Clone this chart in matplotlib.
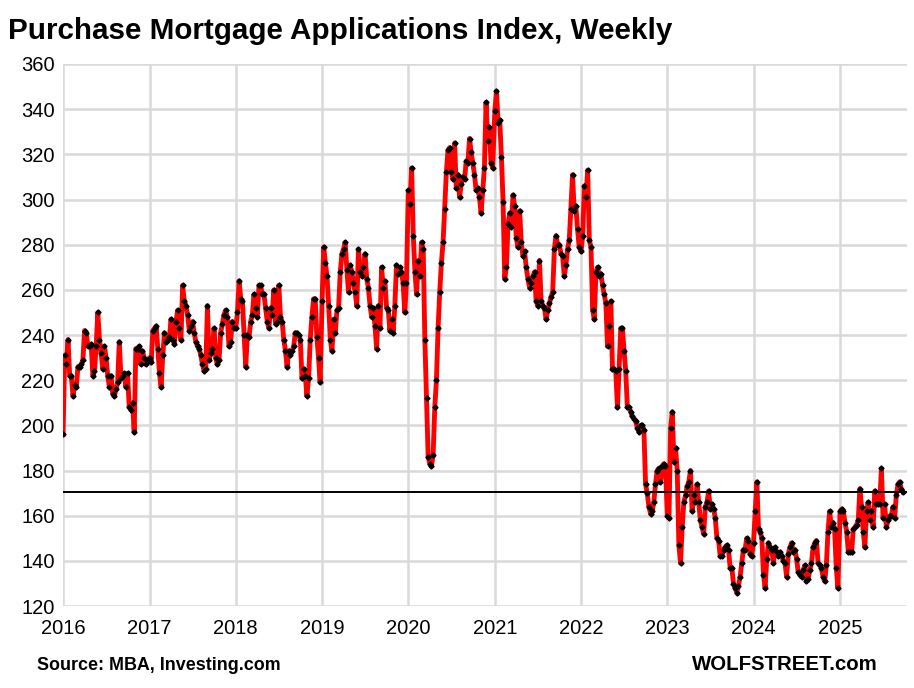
import matplotlib

matplotlib.use("Agg")
import matplotlib.pyplot as plt
import matplotlib.dates as mdates
import pandas as pd

# weekly index values, one list per year
y2016 = [196, 231, 227, 238, 222, 222, 213, 218, 217, 226, 226, 227, 229, 242, 241, 235,
         235, 236, 222, 224, 235, 250, 238, 232, 225, 235, 230, 222, 217, 222, 214, 213,
         216, 219, 237, 221, 222, 223, 217, 223, 208, 207, 210, 197, 234, 234, 235, 227,
         233, 230, 227, 229]
y2017 = [230, 228, 242, 243, 244, 234, 223, 217, 231, 241, 237, 238, 239, 247, 238, 236,
         246, 251, 243, 238, 262, 255, 253, 249, 242, 244, 246, 241, 237, 235, 234, 231,
         227, 224, 225, 253, 229, 232, 234, 243, 230, 227, 229, 241, 245, 249, 251, 248,
         235, 237, 246, 243]
y2018 = [243, 250, 264, 256, 255, 240, 226, 240, 239, 246, 249, 258, 252, 248, 262, 262,
         258, 258, 252, 246, 243, 252, 249, 260, 245, 246, 262, 248, 246, 238, 233, 226,
         233, 231, 233, 235, 241, 241, 240, 238, 221, 225, 222, 213, 221, 238, 248, 256,
         256, 239, 230, 219]
y2019 = [255, 279, 272, 266, 253, 238, 233, 247, 241, 251, 252, 268, 276, 278, 281, 269,
         259, 271, 268, 263, 259, 253, 278, 268, 266, 270, 276, 265, 261, 253, 248, 252,
         244, 234, 253, 243, 270, 261, 264, 252, 251, 242, 247, 241, 253, 271, 267, 270,
         268, 263, 250, 263]
y2020 = [304, 298, 314, 284, 268, 258, 273, 266, 281, 278, 238, 212, 186, 183, 182, 187,
         208, 220, 243, 259, 272, 281, 296, 312, 322, 323, 312, 309, 325, 305, 311, 301,
         307, 310, 309, 317, 316, 327, 321, 316, 311, 304, 305, 301, 294, 304, 314, 343,
         326, 332, 316, 314]
y2021 = [339, 348, 334, 335, 319, 299, 265, 270, 289, 294, 288, 302, 297, 283, 279, 295,
         281, 275, 277, 270, 265, 261, 263, 266, 268, 255, 253, 273, 255, 253, 252, 247,
         251, 254, 257, 259, 278, 284, 280, 280, 276, 275, 266, 271, 278, 282, 296, 311,
         295, 297, 287, 279]
y2022 = [277, 284, 306, 301, 313, 282, 279, 251, 247, 268, 270, 266, 267, 262, 258, 254,
         235, 244, 255, 225, 225, 224, 208, 225, 243, 243, 233, 224, 208, 208, 206, 204,
         203, 202, 199, 197, 200, 200, 198, 174, 170, 164, 161, 162, 166, 174, 180, 181,
         175, 182, 183, 182]
y2023 = [160, 159, 199, 206, 184, 190, 180, 147, 139, 155, 166, 169, 173, 175, 180, 162,
         169, 166, 174, 166, 158, 155, 152, 164, 166, 171, 163, 165, 163, 159, 150, 149,
         142, 142, 145, 146, 147, 145, 137, 137, 130, 128, 126, 129, 133, 139, 145, 145,
         150, 149, 143, 142]
y2024 = [148, 162, 175, 154, 153, 150, 134, 128, 141, 148, 146, 145, 139, 146, 144, 142,
         144, 142, 140, 139, 133, 143, 146, 148, 144, 145, 141, 135, 134, 133, 136, 138,
         131, 132, 136, 139, 146, 148, 149, 139, 138, 137, 133, 131, 138, 153, 162, 155,
         157, 154, 137, 128]
y2025 = [162, 163, 162, 157, 153, 144, 144, 144, 154, 155, 156, 158, 172, 164, 153, 146,
         162, 166, 158, 162, 155, 171, 165, 165, 165, 181, 159, 165, 155, 158, 160, 160,
         164, 159, 169, 174, 175, 172, 170.5]

years = [2016, 2017, 2018, 2019, 2020, 2021, 2022, 2023, 2024, 2025]
yearly = [y2016, y2017, y2018, y2019, y2020, y2021, y2022, y2023, y2024, y2025]

dates = []
values = []
for year, vals in zip(years, yearly):
    dates.extend(pd.date_range(f"{year}-01-01", periods=len(vals), freq="7D"))
    values.extend(vals)

fig = plt.figure(figsize=(9.14, 6.88), dpi=100)
ax = fig.add_axes([0.069, 0.119, 0.923, 0.788])

ax.plot(dates, values, color="#ff0000", linewidth=3.5, zorder=3,
        marker="D", markersize=2.6, markerfacecolor="black", markeredgecolor="black")
ax.axhline(values[-1], color="black", linewidth=1.4, zorder=4)

ax.set_ylim(120, 360)
ax.set_yticks(range(120, 361, 20))
ax.set_xlim(pd.Timestamp("2016-01-01"), pd.Timestamp("2025-10-10"))
ax.set_xticks([pd.Timestamp(f"{y}-01-01") for y in years])
ax.xaxis.set_major_formatter(mdates.DateFormatter("%Y"))

ax.grid(True, color="#d9d9d9", linewidth=1.8, zorder=0)
ax.set_axisbelow(True)
for s in ax.spines.values():
    s.set_visible(False)
ax.tick_params(axis="y", length=0, labelsize=14.5, pad=6)
ax.tick_params(axis="x", length=0, labelsize=14.5, pad=9)
for lab in ax.get_xticklabels() + ax.get_yticklabels():
    lab.set_fontfamily("Liberation Sans")

fig.text(0.009, 0.955, "Purchase Mortgage Applications Index, Weekly",
         fontsize=21.3, fontweight="bold", family="Liberation Sans", va="center")
fig.text(0.041, 0.032, "Source: MBA, Investing.com",
         fontsize=12.9, fontweight="bold", family="Liberation Sans", va="center")
fig.text(0.960, 0.034, "WOLFSTREET.com",
         fontsize=14.7, fontweight="bold", family="Liberation Sans", va="center", ha="right")

fig.savefig("out.png", dpi=100)
